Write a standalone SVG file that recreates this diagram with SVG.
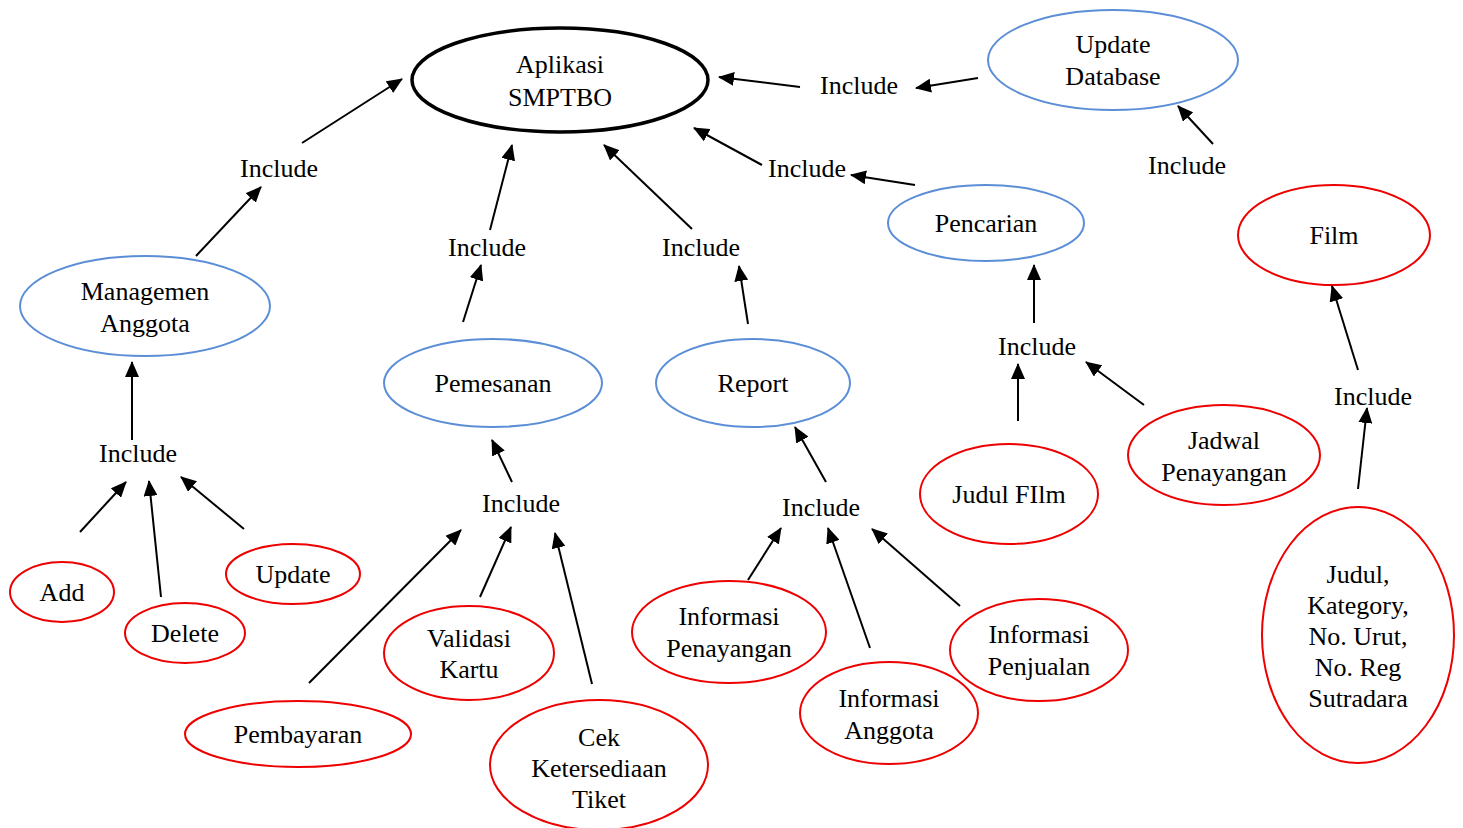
<svg xmlns="http://www.w3.org/2000/svg" width="1463" height="828" viewBox="0 0 1463 828">
<defs>
<marker id="ah" markerUnits="userSpaceOnUse" markerWidth="16" markerHeight="14" refX="15" refY="7" orient="auto">
<path d="M0,0 L16,7 L0,14 Z" fill="#000"/>
</marker>
<style>
text{font-family:"Liberation Serif","Times New Roman",serif;font-size:26px;fill:#000;text-anchor:middle}
.main{fill:#fff;stroke:#000;stroke-width:3.5}
.blue{fill:#fff;stroke:#5B8ED6;stroke-width:2}
.red{fill:#fff;stroke:#EE0000;stroke-width:2}
.c line{stroke:#000;stroke-width:2;marker-end:url(#ah)}
</style>
</defs>
<rect width="1463" height="828" fill="#fff"/>
<g id="n-aplikasi"><ellipse class="main" cx="560" cy="80" rx="148" ry="52"/><text x="560" y="73">Aplikasi</text><text x="560" y="106">SMPTBO</text></g>
<g id="n-updatedb"><ellipse class="blue" cx="1113" cy="60" rx="125" ry="50"/><text x="1113" y="53">Update</text><text x="1113" y="85">Database</text></g>
<g id="n-pencarian"><ellipse class="blue" cx="986" cy="223" rx="98" ry="38"/><text x="986" y="232">Pencarian</text></g>
<g id="n-film"><ellipse class="red" cx="1334" cy="235" rx="96" ry="50"/><text x="1334" y="244">Film</text></g>
<g id="n-managemen"><ellipse class="blue" cx="145" cy="306" rx="125" ry="50"/><text x="145" y="300">Managemen</text><text x="145" y="332">Anggota</text></g>
<g id="n-pemesanan"><ellipse class="blue" cx="493" cy="383" rx="109" ry="44"/><text x="493" y="392">Pemesanan</text></g>
<g id="n-report"><ellipse class="blue" cx="753" cy="383" rx="97" ry="44"/><text x="753" y="392">Report</text></g>
<g id="n-jadwal"><ellipse class="red" cx="1224" cy="455" rx="96" ry="50"/><text x="1224" y="449">Jadwal</text><text x="1224" y="481">Penayangan</text></g>
<g id="n-judulfilm"><ellipse class="red" cx="1009" cy="494" rx="89" ry="50"/><text x="1009" y="503">Judul FIlm</text></g>
<g id="n-atribut"><ellipse class="red" cx="1358" cy="635" rx="96" ry="128"/><text x="1358" y="583">Judul,</text><text x="1358" y="614">Kategory,</text><text x="1358" y="645">No. Urut,</text><text x="1358" y="676">No. Reg</text><text x="1358" y="707">Sutradara</text></g>
<g id="n-add"><ellipse class="red" cx="62" cy="592" rx="52" ry="30"/><text x="62" y="601">Add</text></g>
<g id="n-delete"><ellipse class="red" cx="185" cy="633" rx="60" ry="30"/><text x="185" y="642">Delete</text></g>
<g id="n-update"><ellipse class="red" cx="293" cy="574" rx="67" ry="30"/><text x="293" y="583">Update</text></g>
<g id="n-pembayaran"><ellipse class="red" cx="298" cy="734" rx="113" ry="33"/><text x="298" y="743">Pembayaran</text></g>
<g id="n-validasi"><ellipse class="red" cx="469" cy="653" rx="85" ry="47"/><text x="469" y="647">Validasi</text><text x="469" y="678">Kartu</text></g>
<g id="n-cek"><ellipse class="red" cx="599" cy="765" rx="109" ry="65"/><text x="599" y="746">Cek</text><text x="599" y="777">Ketersediaan</text><text x="599" y="808">Tiket</text></g>
<g id="n-infopenayangan"><ellipse class="red" cx="729" cy="632" rx="97" ry="51"/><text x="729" y="625">Informasi</text><text x="729" y="657">Penayangan</text></g>
<g id="n-infoanggota"><ellipse class="red" cx="889" cy="713" rx="89" ry="51"/><text x="889" y="707">Informasi</text><text x="889" y="739">Anggota</text></g>
<g id="n-infopenjualan"><ellipse class="red" cx="1039" cy="650" rx="89" ry="51"/><text x="1039" y="643">Informasi</text><text x="1039" y="675">Penjualan</text></g>
<g id="labels">
<text x="279" y="177">Include</text>
<text x="487" y="256">Include</text>
<text x="701" y="256">Include</text>
<text x="859" y="94">Include</text>
<text x="807" y="177">Include</text>
<text x="1187" y="174">Include</text>
<text x="1037" y="355">Include</text>
<text x="1373" y="405">Include</text>
<text x="138" y="462">Include</text>
<text x="521" y="512">Include</text>
<text x="821" y="516">Include</text>
</g>
<g id="connectors" class="c">
<line x1="196" y1="256" x2="261" y2="187"/>
<line x1="302" y1="143" x2="402" y2="79"/>
<line x1="463" y1="322" x2="481" y2="265"/>
<line x1="490" y1="230" x2="512" y2="145"/>
<line x1="748" y1="324" x2="739" y2="266"/>
<line x1="692" y1="229" x2="604" y2="145"/>
<line x1="978" y1="78" x2="916" y2="88"/>
<line x1="800" y1="87" x2="719" y2="77"/>
<line x1="1213" y1="144" x2="1178" y2="106"/>
<line x1="915" y1="185" x2="851" y2="175"/>
<line x1="762" y1="165" x2="694" y2="128"/>
<line x1="1034" y1="323" x2="1034" y2="265"/>
<line x1="1018" y1="421" x2="1018" y2="364"/>
<line x1="1144" y1="405" x2="1086" y2="362"/>
<line x1="1358" y1="370" x2="1332" y2="286"/>
<line x1="1358" y1="489" x2="1367" y2="408"/>
<line x1="132" y1="440" x2="132" y2="362"/>
<line x1="80" y1="532" x2="126" y2="482"/>
<line x1="161" y1="597" x2="149" y2="481"/>
<line x1="244" y1="529" x2="181" y2="477"/>
<line x1="512" y1="482" x2="492" y2="440"/>
<line x1="309" y1="683" x2="461" y2="530"/>
<line x1="480" y1="597" x2="511" y2="527"/>
<line x1="592" y1="684" x2="555" y2="533"/>
<line x1="826" y1="482" x2="795" y2="427"/>
<line x1="748" y1="580" x2="781" y2="528"/>
<line x1="870" y1="648" x2="828" y2="528"/>
<line x1="960" y1="606" x2="872" y2="529"/>
</g>
</svg>
